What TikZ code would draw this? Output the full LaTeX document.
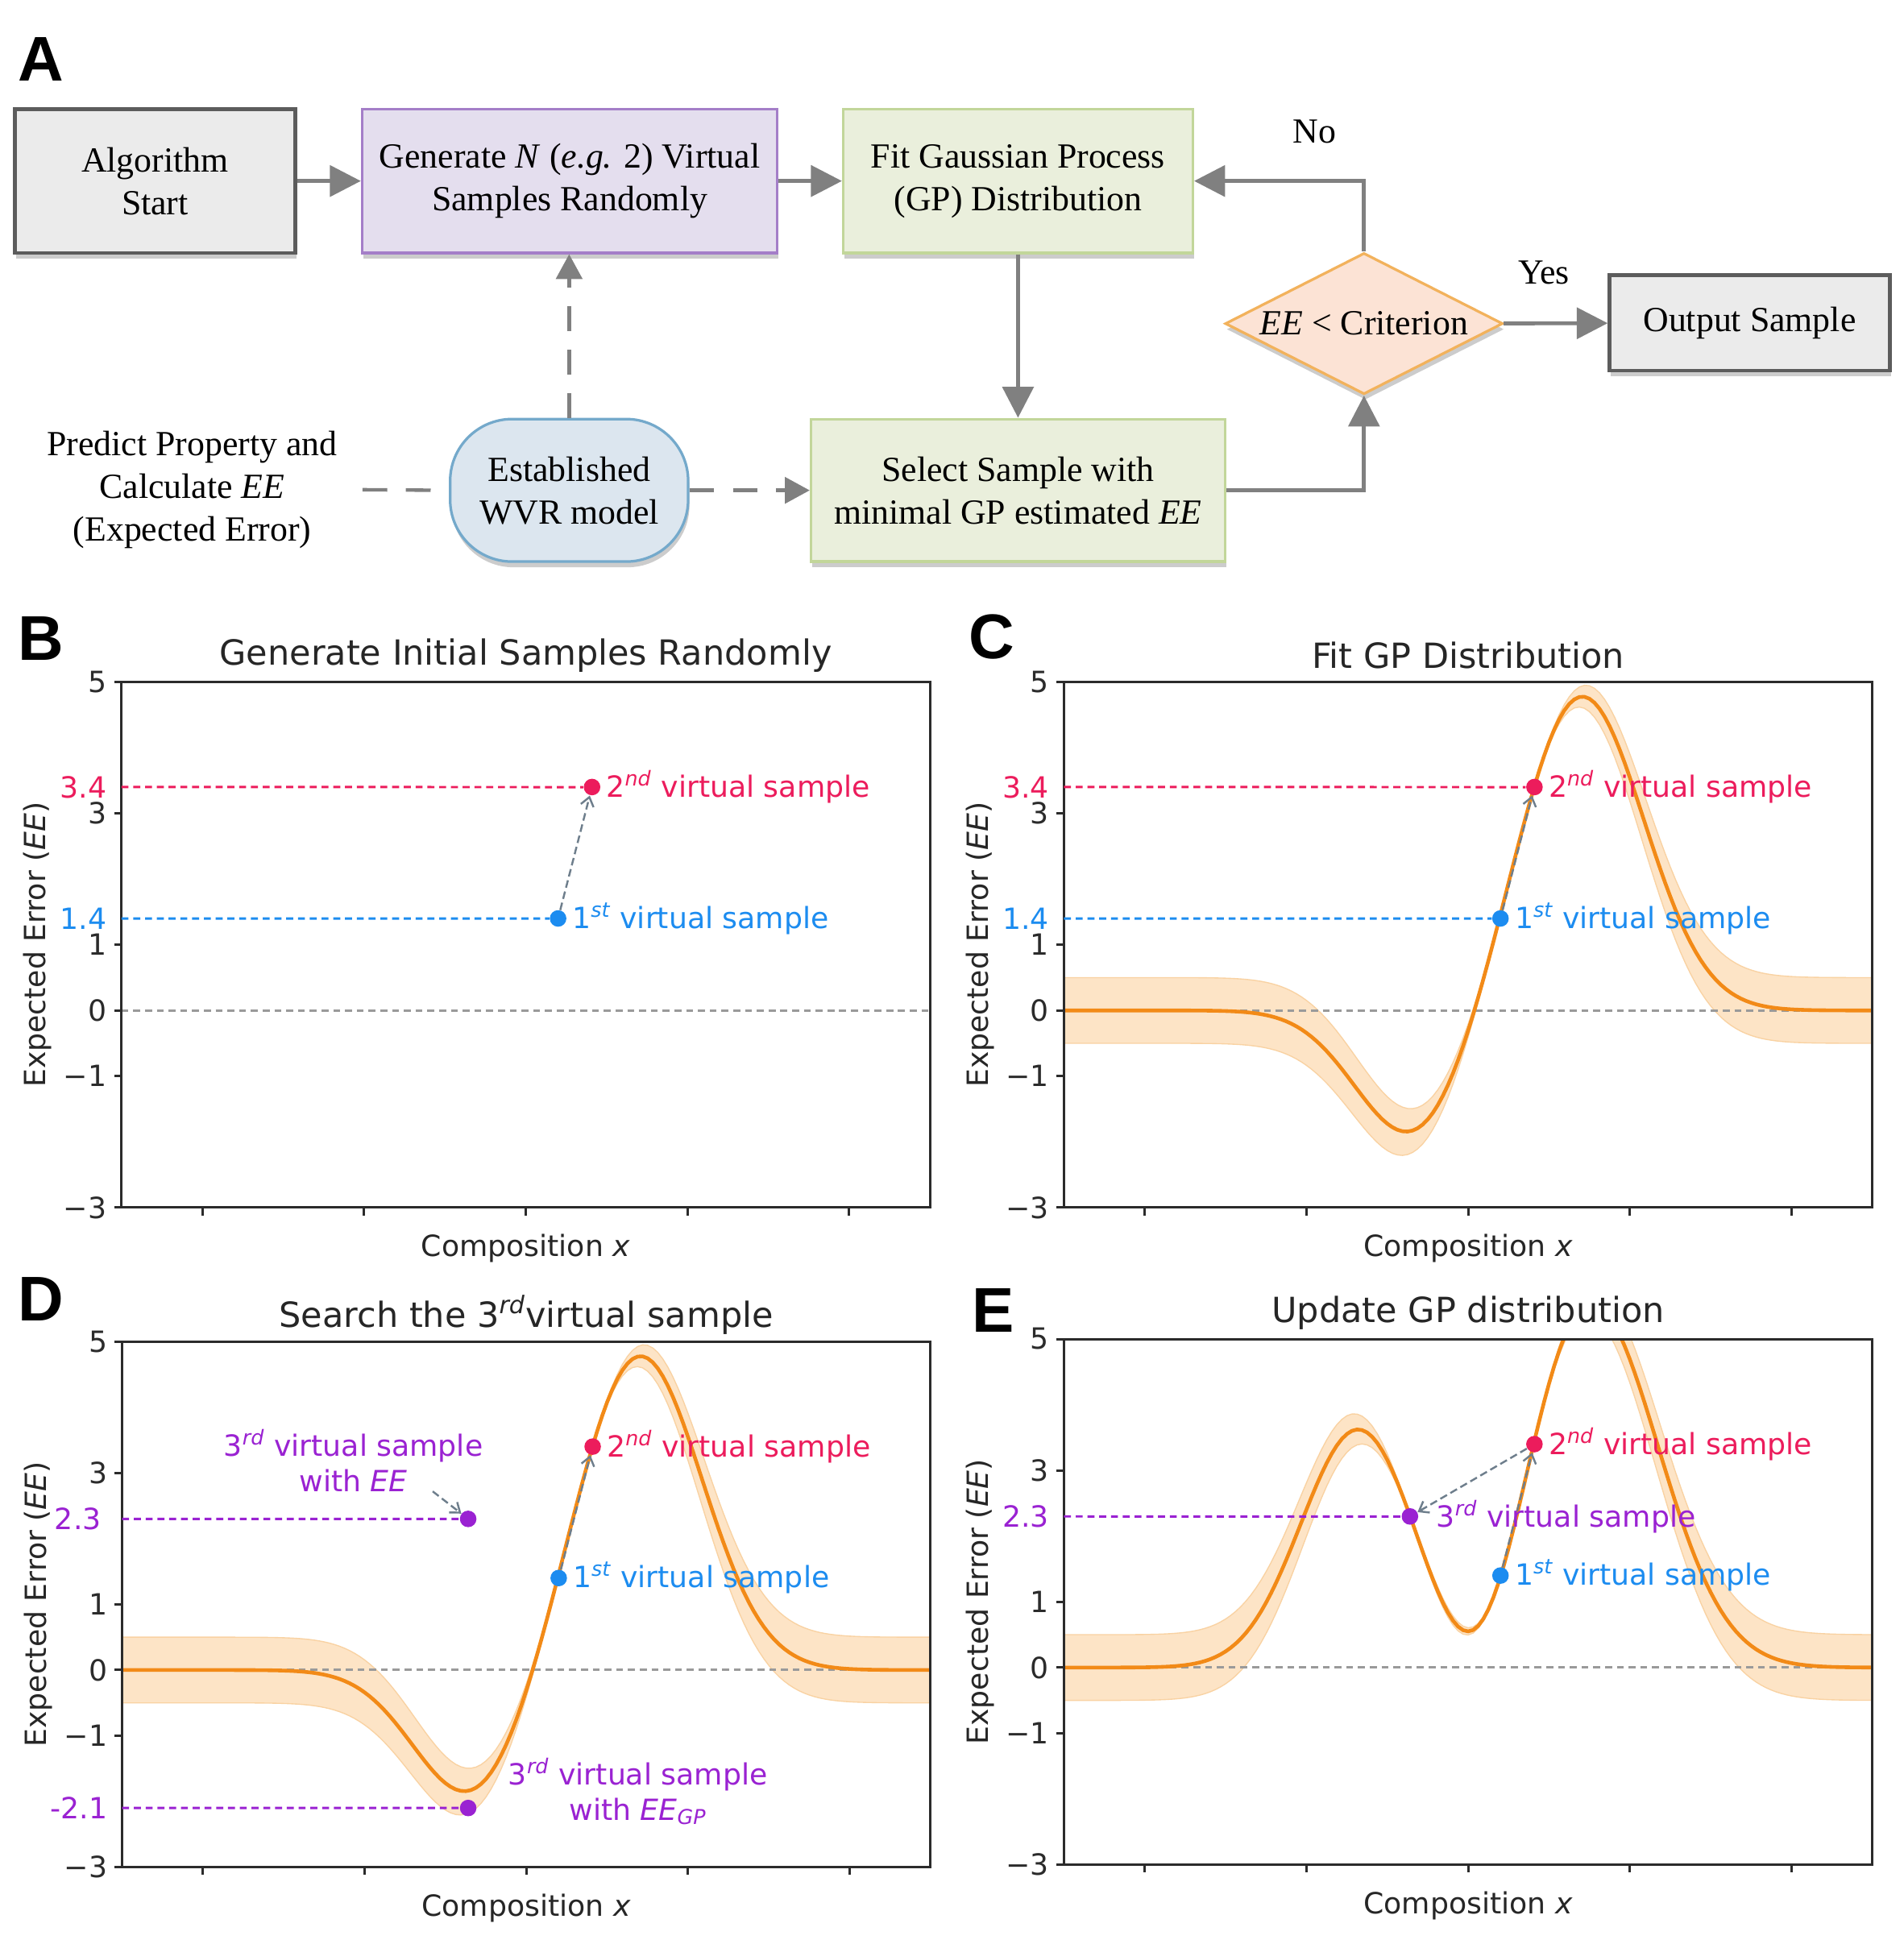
\documentclass[tikz,border=0pt]{standalone}
\usepackage{fontspec}
\setmainfont{Liberation Serif}
\newfontfamily\plotfont{DejaVu Sans}
\newfontfamily\panelfont{Liberation Sans}
\usetikzlibrary{arrows.meta,shapes.geometric,shadows}

\definecolor{startfill}{HTML}{EBEBEB}
\definecolor{startdraw}{HTML}{5C5C5C}
\definecolor{genfill}{HTML}{E4DEEE}
\definecolor{gendraw}{HTML}{A47EC8}
\definecolor{gpfill}{HTML}{EAEFDC}
\definecolor{gpdraw}{HTML}{C2D69A}
\definecolor{decfill}{HTML}{FCE3D5}
\definecolor{decdraw}{HTML}{F2B25C}
\definecolor{wvrfill}{HTML}{DCE6EF}
\definecolor{wvrdraw}{HTML}{74A9CB}
\definecolor{arrowgray}{HTML}{808080}
\definecolor{axisgray}{HTML}{2B2B2B}
\definecolor{zerogray}{HTML}{9A9A9A}
\definecolor{gpred}{HTML}{EC1C5C}
\definecolor{gpblue}{HTML}{1C8CF0}
\definecolor{gppurple}{HTML}{9A22D2}
\definecolor{gporange}{HTML}{F28A17}
\definecolor{gpband}{HTML}{FDE4C6}
\definecolor{gpbandedge}{HTML}{F9D2A2}
\definecolor{slatearrow}{HTML}{6E7E8C}

\newcommand{\plotsize}{\plotfont\fontsize{13.4}{16}\selectfont}

\tikzstyle{flowtext} = [font=\fontsize{16.2}{19.6}\selectfont, align=center, inner sep=0pt]
\tikzstyle{boxshadow} = [drop shadow={shadow xshift=0.6pt, shadow yshift=-2.6pt, opacity=0.2, fill=black}]
\tikzstyle{greybox} = [flowtext, boxshadow, rectangle, draw=startdraw, fill=startfill,
    line width=1.7pt, minimum width=4.52cm, minimum height=2.32cm]
\tikzstyle{purplebox} = [flowtext, boxshadow, rectangle, draw=gendraw, fill=genfill,
    line width=1.2pt, minimum width=6.7cm, minimum height=2.32cm]
\tikzstyle{greenbox} = [flowtext, boxshadow, rectangle, draw=gpdraw, fill=gpfill,
    line width=1.2pt, minimum width=6.68cm, minimum height=2.3cm]
\tikzstyle{modelbox} = [flowtext, boxshadow, rectangle, rounded corners=1cm, draw=wvrdraw,
    fill=wvrfill, line width=1.2pt, minimum width=3.84cm, minimum height=2.3cm]
\tikzstyle{decision} = [flowtext, boxshadow, diamond, aspect=2, draw=decdraw, fill=decfill,
    line width=1.2pt, minimum width=4.48cm, minimum height=2.28cm]
\tikzstyle{flowarrow} = [draw=arrowgray, line width=1.8pt, -{Triangle[length=0.5cm,width=0.5cm]}]
\tikzstyle{dashline} = [draw=arrowgray, line width=1.6pt, dash pattern=on 0.4cm off 0.3cm]
\tikzstyle{dasharrow} = [dashline, -{Triangle[length=0.4cm,width=0.42cm]}]
\tikzstyle{panelletter} = [font=\panelfont\bfseries\fontsize{29}{29}\selectfont, inner sep=0pt]

\tikzstyle{axisline} = [draw=axisgray, line width=1.1pt]
\tikzstyle{ticklab} = [font=\plotsize, text=axisgray, anchor=east, inner xsep=3.2pt, inner ysep=0pt]
\tikzstyle{plottitle} = [font=\plotfont\fontsize{15.9}{18.5}\selectfont, text=black!85, inner sep=0pt]
\tikzstyle{plotlab} = [font=\plotsize, text=black!85, inner sep=0pt]
\tikzstyle{zeroline} = [draw=zerogray, line width=1.1pt, dash pattern=on 3.2pt off 2.2pt]
\tikzstyle{sampleline} = [line width=1.1pt, dash pattern=on 3.2pt off 2.2pt]
\tikzstyle{gpbandfill} = [fill=gpband, draw=gpbandedge, line width=0.5pt]
\tikzstyle{gpmean} = [draw=gporange, line width=1.7pt]
\tikzstyle{sampledot} = [circle, inner sep=0pt, minimum size=7.6pt]
\tikzstyle{samplelab} = [font=\plotsize, anchor=west, inner xsep=2.4pt, inner ysep=0pt]
\tikzstyle{samplearrow} = [draw=slatearrow, line width=0.9pt, dash pattern=on 3.5pt off 1.8pt,
    -{Straight Barb[length=4pt,width=6pt]}]

\newcommand{\gpaxes}[2]{%
  \draw[axisline] (-2.5,-3) rectangle (2.5,5);
  \foreach \t in {-2,...,2} \draw[axisline] (\t,-3) -- (\t,-3.12);
  \foreach \v/\s [count=\k] in {5/5,3/3,1/1,0/0,-1/−1,-3/−3} {
    \draw[axisline] (-2.5,\v) -- (-2.546,\v);
    \node[ticklab] (tick#1\k) at (-2.546,\v) {\s};
  }
  \node[plottitle] (title#1) at (0,5.4) {#2};
  \node[plotlab, rotate=90] (ylab#1) at (-3.02,1) {Expected Error (\textit{EE})};
  \node[plotlab] (xlab#1) at (0,-3.62) {Composition \textit{x}};
}
\newcommand{\gpcurve}[2]{%
  \begin{scope}
    \clip (-2.5,-3) rectangle (2.5,5);
    \path[gpbandfill] plot[domain=-2.5:2.5, samples=161] (\x,{#1(\x)+#2(\x)})
      -- plot[domain=2.5:-2.5, samples=161] (\x,{#1(\x)-#2(\x)}) -- cycle;
    \draw[zeroline] (-2.5,0) -- (2.5,0);
    \draw[gpmean] plot[domain=-2.5:2.5, samples=161] (\x,{#1(\x)});
  \end{scope}
}

\begin{document}
\begin{tikzpicture}[x=0.02cm, y=-0.02cm,
  declare function={
    gau(\xa,\ma,\sa) = exp(-((\xa-\ma)/\sa)*((\xa-\ma)/\sa));
    fc(\xa) = 4.8*gau(\xa,0.7,0.545) - 1.95*gau(\xa,-0.34,0.5);
    sc(\xa) = 0.5*sqrt(abs((1-gau(\xa,0.2,0.6))*(1-gau(\xa,0.41,0.6))));
    fe(\xa) = 3.62*gau(\xa,-0.68,0.5) + 5.6*gau(\xa,0.75,0.595) - 1.25*gau(\xa,0.1,0.37);
    se(\xa) = 0.5*sqrt(abs((1-gau(\xa,-0.36,0.6))*(1-gau(\xa,0.2,0.6))*(1-gau(\xa,0.41,0.6))));
  }]
\useasboundingbox[fill=white] (0,0) rectangle (1535,1568);

% flow chart
\node[panelletter] (labA) at (33,48) {A};
\node[greybox] (start) at (125,146) {Algorithm\\Start};
\node[purplebox] (gen) at (459.5,146) {Generate \textit{N} (\textit{e.g.} 2) Virtual\\Samples Randomly};
\node[greenbox, minimum width=5.64cm, minimum height=2.32cm] (fit) at (821,146) {Fit Gaussian Process\\(GP) Distribution};
\node[greenbox] (select) at (821,395.5) {Select Sample with\\minimal GP estimated \textit{EE}};
\node[modelbox] (wvr) at (459,395.5) {Established\\WVR model};
\node[decision] (dec) at (1100,261) {\textit{EE} < Criterion};
\node[greybox, minimum height=1.54cm] (output) at (1411,260.5) {Output Sample};
\node[flowtext, inner xsep=0.4cm] (predict) at (155,395) {Predict Property and\\Calculate \textit{EE}\\(Expected Error)};
\node[flowtext] (no) at (1060,106) {No};
\node[flowtext] (yes) at (1245,220) {Yes};

\draw[flowarrow] (start) -- (gen);
\draw[flowarrow] (gen) -- (fit);
\draw[flowarrow] (fit) -- (select);
\draw[flowarrow] (select.east) -| (dec.south);
\draw[flowarrow] (dec.north) |- (fit.east);
\draw[flowarrow] (dec) -- (output);
\draw[dashline] (predict.east) -- (wvr.west);
\draw[dasharrow] (wvr) -- (select);
\draw[dasharrow] (wvr.north) -- (wvr.north |- gen.south);

% panel B
\node[panelletter] (labB) at (33,515) {B};
\begin{scope}[shift={(424,815)}, xscale=130.4, yscale=-53]
  \draw[zeroline] (-2.5,0) -- (2.5,0);
  \gpaxes{B}{Generate Initial Samples Randomly}
  \node[sampledot, fill=gpblue] (b1) at (0.2,1.4) {};
  \node[sampledot, fill=gpred] (b2) at (0.41,3.4) {};
  \draw[sampleline, draw=gpblue] (-2.5,1.4) -- (b1);
  \draw[sampleline, draw=gpred] (-2.5,3.4) -- (b2);
  \node[ticklab, text=gpblue] (tickB14) at (-2.546,1.4) {1.4};
  \node[ticklab, text=gpred] (tickB34) at (-2.546,3.4) {3.4};
  \draw[samplearrow] (b1) -- (b2);
  \node[samplelab, text=gpblue] (b1lab) at (b1.east) {1\textsuperscript{\itshape st} virtual sample};
  \node[samplelab, text=gpred] (b2lab) at (b2.east) {2\textsuperscript{\itshape nd} virtual sample};
\end{scope}

% panel C
\node[panelletter] (labC) at (800,514) {C};
\begin{scope}[shift={(1184,815)}, xscale=130.4, yscale=-53]
  \gpcurve{fc}{sc}
  \gpaxes{C}{Fit GP Distribution}
  \node[sampledot, fill=gpblue] (c1) at (0.2,1.4) {};
  \node[sampledot, fill=gpred] (c2) at (0.41,3.4) {};
  \draw[sampleline, draw=gpblue] (-2.5,1.4) -- (c1);
  \draw[sampleline, draw=gpred] (-2.5,3.4) -- (c2);
  \node[ticklab, text=gpblue] (tickC14) at (-2.546,1.4) {1.4};
  \node[ticklab, text=gpred] (tickC34) at (-2.546,3.4) {3.4};
  \draw[samplearrow] (c1) -- (c2);
  \node[samplelab, text=gpblue] (c1lab) at (c1.east) {1\textsuperscript{\itshape st} virtual sample};
  \node[samplelab, text=gpred] (c2lab) at (c2.east) {2\textsuperscript{\itshape nd} virtual sample};
\end{scope}

% panel D
\node[panelletter] (labD) at (33,1048) {D};
\begin{scope}[shift={(424.5,1347)}, xscale=130.4, yscale=-53]
  \gpcurve{fc}{sc}
  \gpaxes{D}{Search the 3\textsuperscript{\itshape rd}virtual sample}
  \node[sampledot, fill=gpblue] (d1) at (0.2,1.4) {};
  \node[sampledot, fill=gpred] (d2) at (0.41,3.4) {};
  \node[sampledot, fill=gppurple] (d3a) at (-0.36,2.3) {};
  \node[sampledot, fill=gppurple] (d3b) at (-0.36,-2.1) {};
  \draw[sampleline, draw=gppurple] (-2.5,2.3) -- (d3a);
  \draw[sampleline, draw=gppurple] (-2.5,-2.1) -- (d3b);
  \node[ticklab, text=gppurple, inner xsep=6pt] (tickD23) at (-2.546,2.3) {2.3};
  \node[ticklab, text=gppurple] (tickD21) at (-2.546,-2.1) {-2.1};
  \draw[samplearrow] (d1) -- (d2);
  \node[samplelab, text=gpblue] (d1lab) at (d1.east) {1\textsuperscript{\itshape st} virtual sample};
  \node[samplelab, text=gpred] (d2lab) at (d2.east) {2\textsuperscript{\itshape nd} virtual sample};
  \node[samplelab, text=gppurple, anchor=center, align=center] (d3alab) at (-1.07,3.19)
    {3\textsuperscript{\itshape rd} virtual sample\\with \textit{EE}};
  \node[samplelab, text=gppurple, anchor=center, align=center] (d3blab) at (0.69,-1.85)
    {3\textsuperscript{\itshape rd} virtual sample\\with \textit{EE}\textsubscript{\itshape GP}};
  \coordinate (d3tail) at (-0.58,2.72);
  \draw[samplearrow] (d3tail) -- (d3a);
\end{scope}

% panel E
\node[panelletter] (labE) at (801,1057) {E};
\begin{scope}[shift={(1184,1345)}, xscale=130.4, yscale=-53]
  \gpcurve{fe}{se}
  \gpaxes{E}{Update GP distribution}
  \node[sampledot, fill=gpblue] (e1) at (0.2,1.4) {};
  \node[sampledot, fill=gpred] (e2) at (0.41,3.4) {};
  \node[sampledot, fill=gppurple] (e3) at (-0.36,2.3) {};
  \draw[sampleline, draw=gppurple] (-2.5,2.3) -- (e3);
  \node[ticklab, text=gppurple] (tickE23) at (-2.546,2.3) {2.3};
  \draw[samplearrow] (e1) -- (e2);
  \draw[samplearrow] (e2) -- (e3);
  \node[samplelab, text=gpblue] (e1lab) at (e1.east) {1\textsuperscript{\itshape st} virtual sample};
  \node[samplelab, text=gpred] (e2lab) at (e2.east) {2\textsuperscript{\itshape nd} virtual sample};
  \node[samplelab, text=gppurple, inner xsep=8pt] (e3lab) at (e3.east) {3\textsuperscript{\itshape rd} virtual sample};
\end{scope}
\end{tikzpicture}
\end{document}
